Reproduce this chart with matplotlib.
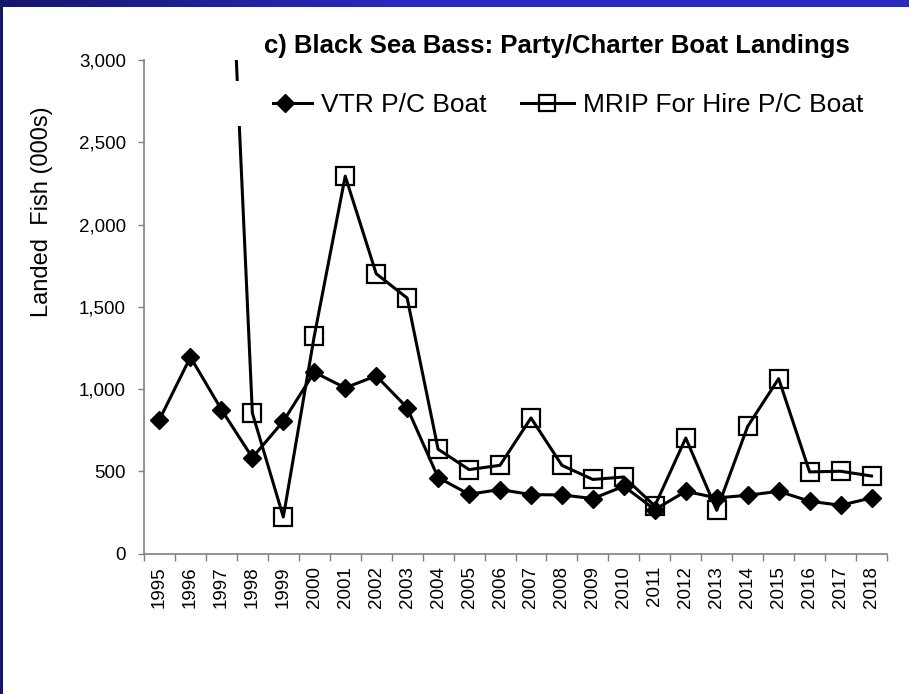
import numpy as np
import matplotlib
matplotlib.use("Agg")
import matplotlib.pyplot as plt
from matplotlib.patches import Rectangle
from matplotlib.ticker import FuncFormatter, FixedLocator

plt.rcParams['font.family'] = ['Liberation Sans', 'DejaVu Sans']

# data (thousands of fish)
years = [str(y) for y in range(1995, 2019)]
vtr = [814, 1194, 875, 583, 804, 1102, 1007, 1080, 886, 462, 360, 389, 358,
       356, 334, 409, 267, 378, 338, 354, 378, 318, 293, 338]
# MRIP 1997 goes off the top of the chart
mrip = [np.nan, np.nan, 5000, 854, 222, 1322, 2294, 1701, 1553, 634, 510, 536,
        824, 536, 450, 465, 289, 702, 263, 773, 1063, 496, 500, 471]

W, H = 909, 694
fig = plt.figure(figsize=(W / 100, H / 100), dpi=100)

# blue frame: top band + left edge
band = fig.add_axes([0, 1 - 7 / H, 1, 7 / H])
grad = np.clip(np.linspace(0, 2.2, 256), 0, 1)
c0 = np.array([0x16, 0x16, 0x6e]) / 255
c1 = np.array([0x2a, 0x2a, 0xc0]) / 255
band.imshow((c0 + (c1 - c0) * grad[:, None])[None, :, :], aspect='auto',
            extent=[0, 1, 0, 1])
band.axis('off')
fig.patches.append(Rectangle((0, 0), 2.5 / W, 1, transform=fig.transFigure,
                             facecolor='#15156a', edgecolor='none'))

ax = fig.add_axes([144 / W, 1 - 553.5 / H, (887 - 144) / W, (553.5 - 60) / H])
x = np.arange(len(years))

ax.plot(x, vtr, color='black', lw=2.2, marker='D', ms=9.5,
        markerfacecolor='black', markeredgecolor='black', label='VTR P/C Boat',
        zorder=3)
ax.plot(x, mrip, color='black', lw=2.2, marker='s', ms=12.5,
        markerfacecolor='none', markeredgecolor='black', markeredgewidth=1.6,
        label='MRIP For Hire P/C Boat', zorder=2)

ax.set_xlim(-0.5, len(years) - 0.5)
ax.set_ylim(0, 3000)
ax.set_yticks(range(0, 3001, 500))
ax.yaxis.set_major_formatter(FuncFormatter(lambda v, p: f"{int(v):,}"))

ax.xaxis.set_major_locator(FixedLocator(np.arange(-0.5, len(years), 1)))
ax.xaxis.set_minor_locator(FixedLocator(x))
ax.set_xticklabels([], minor=False)
ax.set_xticks(x, years, minor=True, rotation=90)
ax.tick_params(axis='x', which='major', length=5, width=1, color='#808080',
               direction='out')
ax.tick_params(axis='x', which='minor', length=0, pad=9, labelsize=13.5)
ax.tick_params(axis='y', length=4, width=1, color='#808080', direction='out',
               pad=9, labelsize=13.5)

for s in ['top', 'right']:
    ax.spines[s].set_visible(False)
for s in ['left', 'bottom']:
    ax.spines[s].set_color('#808080')
    ax.spines[s].set_linewidth(1.2)

fig.text(42 / W, 1 - 212 / H, 'Landed  Fish (000s)', rotation=90,
         ha='center', va='center', fontsize=17)
fig.text(557 / W, 1 - 53 / H, 'c) Black Sea Bass: Party/Charter Boat Landings',
         ha='center', va='baseline', fontsize=18.5, fontweight='bold')

# white plot-area behind the legend (hides the steep line there)
fig.patches.append(Rectangle((232 / W, 1 - 126 / H), 40 / W, 45 / H,
                             transform=fig.transFigure, facecolor='white',
                             edgecolor='none', zorder=5))

leg = ax.legend(loc='center', bbox_to_anchor=(561 / W, 1 - 105 / H),
                bbox_transform=fig.transFigure, ncol=2, fontsize=19,
                handlelength=2.0, handletextpad=0.35, columnspacing=1.3,
                markerscale=0.95, frameon=True, fancybox=False,
                borderpad=0.3)
leg.get_frame().set_edgecolor('none')
leg.get_frame().set_facecolor('white')
leg.get_frame().set_alpha(1)
leg.set_zorder(6)

fig.savefig('out.png', dpi=100, facecolor='white')
